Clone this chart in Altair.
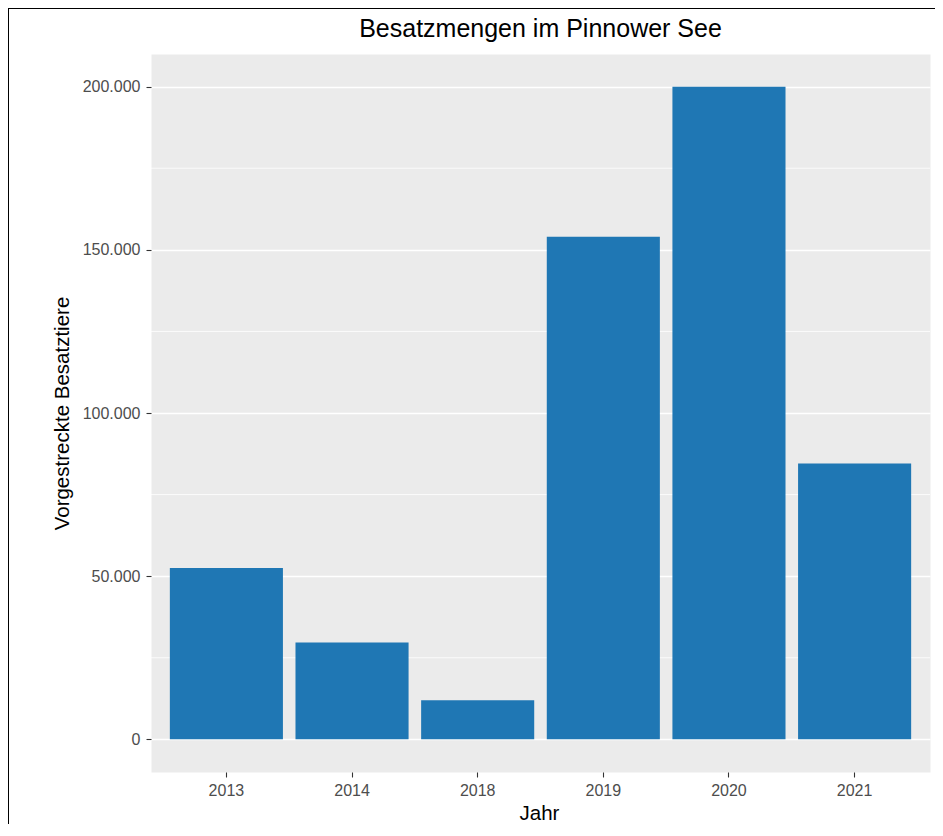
import altair as alt
import pandas as pd

years = ["2013", "2014", "2018", "2019", "2020", "2021"]
counts = [52500, 29700, 12000, 154000, 200000, 84500]
y_ticks = [0, 50000, 100000, 150000, 200000]
minor_ticks = [25000, 75000, 125000, 175000]

df = pd.DataFrame({"Jahr": years, "Anzahl": counts})
minor_df = pd.DataFrame({"v": minor_ticks})

FONT = "Liberation Sans"
yscale = alt.Scale(domain=[-10000, 210000], nice=False, zero=False)

yaxis = alt.Axis(
    title="Vorgestreckte Besatztiere",
    values=y_ticks,
    labelExpr="replace(format(datum.value, ',d'), ',', '.')",
    grid=True,
    gridColor="white",
    gridWidth=1.6,
    domain=False,
    tickColor="#333333",
    tickSize=5,
    tickWidth=1.1,
    labelPadding=6,
    labelColor="#4D4D4D",
    labelFontSize=16,
    labelFont=FONT,
    titleFont=FONT,
    titleFontSize=20.5,
    titleFontWeight="normal",
    titleColor="black",
    titleBaseline="alphabetic",
    titleAngle=270,
    titleX=-83,
    titleY=359,
)

minor = alt.Chart(minor_df).mark_rule(color="white", strokeWidth=0.8).encode(
    y=alt.Y("v:Q", scale=yscale, axis=yaxis, title="Vorgestreckte Besatztiere")
)

bars = alt.Chart(df).mark_bar(color="#1F77B4").encode(
    x=alt.X(
        "Jahr:N",
        sort=years,
        scale=alt.Scale(paddingInner=0.1, paddingOuter=0.15),
        axis=alt.Axis(
            title="Jahr",
            labelAngle=0,
            grid=False,
            domain=False,
            tickColor="#333333",
            tickSize=5,
            tickWidth=1.1,
            labelPadding=5,
            labelColor="#4D4D4D",
            labelFontSize=16,
            labelFont=FONT,
            titleFont=FONT,
            titleFontSize=20.5,
            titleFontWeight="normal",
            titleColor="black",
            titleBaseline="alphabetic",
            titleY=47,
            titleX=388,
        ),
    ),
    y=alt.Y("Anzahl:Q", scale=yscale, axis=yaxis, title="Vorgestreckte Besatztiere"),
)

frame_left = alt.Chart(df).mark_rule(color="black", strokeWidth=2).encode(
    x=alt.value(-143), y=alt.value(-46), y2=alt.value(800)
)
frame_top = alt.Chart(df).mark_rule(color="black", strokeWidth=2).encode(
    x=alt.value(-143), x2=alt.value(800), y=alt.value(-46)
)

chart = (
    alt.layer(minor, bars, frame_left, frame_top)
    .properties(
        width=779,
        height=718,
        autosize=alt.AutoSizeParams(type="none"),
        padding={"left": 143, "top": 46, "right": 5, "bottom": 52},
        title=alt.Title(
            "Besatzmengen im Pinnower See",
            font=FONT,
            fontSize=25,
            fontWeight="normal",
            color="black",
            anchor="middle",
            baseline="alphabetic",
            offset=-31,
            dy=24,
        ),
    )
    .configure(background="white")
    .configure_view(fill="#EBEBEB", stroke="transparent")
)

chart.save("out.html", embed_options={"renderer": "svg", "actions": False})
